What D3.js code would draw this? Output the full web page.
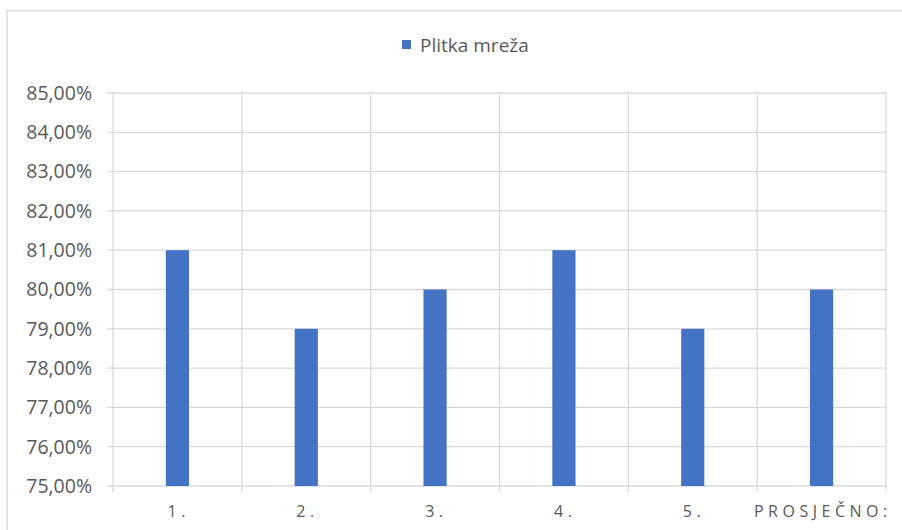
<!DOCTYPE html>
<html>
<head>
<meta charset="utf-8">
<script src="https://cdn.jsdelivr.net/npm/d3@7"></script>
<style>
  html, body { margin: 0; padding: 0; background: #fff; }
  svg { display: block; }
</style>
</head>
<body>
<div id="chart"></div>
<script>
const categories = ["1.", "2.", "3.", "4.", "5.", "PROSJEČNO:"];
const values = [0.81, 0.79, 0.80, 0.81, 0.79, 0.80];
const seriesName = "Plitka mreža";
const yTicks = [0.75, 0.76, 0.77, 0.78, 0.79, 0.80, 0.81, 0.82, 0.83, 0.84, 0.85];

const W = 902, H = 530;
const margin = { left: 113, right: 16, top: 93, bottom: 44 };
const font = "'Open Sans', 'Liberation Sans', sans-serif";
const textColor = "#595959";
const gridColor = "#d9d9d9";
const barColor = "#4472c4";

const svg = d3.select("#chart").append("svg").attr("width", W).attr("height", H);

// outer chart border (top and left visible)
svg.append("rect").attr("x", 7).attr("y", 11).attr("width", W + 10).attr("height", H + 10)
  .attr("fill", "none").attr("stroke", gridColor).attr("stroke-width", 1.5);

const x = d3.scaleBand().domain(categories).range([margin.left, W - margin.right]).padding(0);
const y = d3.scaleLinear().domain([0.75, 0.85]).range([H - margin.bottom, margin.top]);

const fmt = v => d3.format(".2f")(v * 100).replace(".", ",") + "%";

// horizontal gridlines
svg.append("g").selectAll("line").data(yTicks).join("line")
  .attr("x1", margin.left - 6).attr("x2", W - margin.right)
  .attr("y1", d => y(d)).attr("y2", d => y(d))
  .attr("stroke", gridColor).attr("stroke-width", 1.3);

// vertical gridlines (category boundaries)
const bounds = categories.map(c => x(c)).concat([x(categories[categories.length - 1]) + x.bandwidth()]);
svg.append("g").selectAll("line").data(bounds).join("line")
  .attr("x1", d => d).attr("x2", d => d)
  .attr("y1", margin.top).attr("y2", H - margin.bottom + 6)
  .attr("stroke", gridColor).attr("stroke-width", 1.3);

// y labels
svg.append("g").selectAll("text").data(yTicks).join("text")
  .attr("x", 92).attr("y", d => y(d)).attr("dy", "0.35em")
  .attr("text-anchor", "end").attr("fill", textColor)
  .style("font-family", font).style("font-size", "19.5px")
  .text(fmt);

// bars
const bw = x.bandwidth() * 0.18;
svg.append("g").selectAll("rect").data(values).join("rect")
  .attr("x", (d, i) => x(categories[i]) + x.bandwidth() / 2 - bw / 2)
  .attr("width", bw)
  .attr("y", d => y(d))
  .attr("height", d => y(0.75) - y(d))
  .attr("fill", barColor);

// x labels
const ls = 4.5;
svg.append("g").selectAll("text").data(categories).join("text")
  .attr("x", d => x(d) + x.bandwidth() / 2 + ls / 2 - 1)
  .attr("y", 517)
  .attr("text-anchor", "middle").attr("fill", textColor)
  .style("font-family", font).style("font-size", "16px")
  .style("letter-spacing", ls + "px")
  .text(d => d);

// legend
const lg = svg.append("g");
lg.append("rect").attr("x", 402).attr("y", 40).attr("width", 9).attr("height", 9).attr("fill", barColor);
lg.append("text").attr("x", 420).attr("y", 45).attr("dy", "0.35em")
  .attr("fill", textColor).style("font-family", font).style("font-size", "19px")
  .text(seriesName);
</script>
</body>
</html>
